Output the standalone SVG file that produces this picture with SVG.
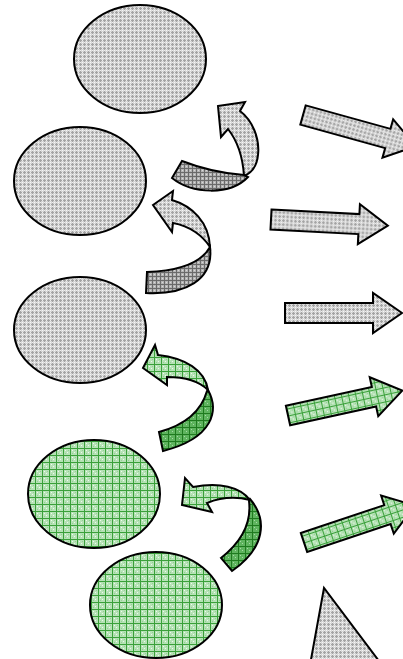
<svg xmlns="http://www.w3.org/2000/svg" width="403" height="659" viewBox="0 0 403 659">
<defs>
<pattern id="pG" width="4" height="4" patternUnits="userSpaceOnUse">
<rect width="4" height="4" fill="#d6d6d6"/><rect width="4" height="1" fill="#a4a4a4"/><rect width="1" height="4" fill="#a4a4a4"/><rect x="2" y="2" width="1" height="1" fill="#f6f6f6"/><rect x="2" y="0" width="1" height="1" fill="#eeeeee"/><rect x="0" y="2" width="1" height="1" fill="#eeeeee"/>
</pattern>
<pattern id="pGD" width="4" height="4" patternUnits="userSpaceOnUse">
<rect width="4" height="4" fill="#b4b4b4"/><rect width="4" height="1" fill="#6a6a6a"/><rect width="1" height="4" fill="#6a6a6a"/><rect x="2" y="2" width="1" height="1" fill="#dadada"/>
</pattern>
<pattern id="pN" width="7" height="7" patternUnits="userSpaceOnUse">
<rect width="7" height="7" fill="#b6e2b6"/><rect x="2" y="2" width="1" height="1" fill="#eef8ee"/><rect x="4" y="4" width="1" height="1" fill="#eef8ee"/><rect x="2" y="5" width="1" height="1" fill="#92cf92"/><rect x="5" y="2" width="1" height="1" fill="#92cf92"/><rect width="7" height="1" fill="#3aa03a"/><rect width="1" height="7" fill="#3aa03a"/>
</pattern>
<pattern id="pND" width="7" height="7" patternUnits="userSpaceOnUse">
<rect width="7" height="7" fill="#5eb45e"/><rect x="2" y="2" width="1" height="1" fill="#a8d8a8"/><rect x="4" y="4" width="1" height="1" fill="#a8d8a8"/><rect width="7" height="1" fill="#1f7a1f"/><rect width="1" height="7" fill="#1f7a1f"/>
</pattern>
</defs>
<style>
.s{stroke:#000;stroke-width:2;stroke-linejoin:miter}
.g{fill:url(#pG)}
.gd{fill:url(#pGD)}
.n{fill:url(#pN)}
.nd{fill:url(#pND)}
</style>
<g id="e1"><ellipse class="s g" cx="140" cy="59" rx="66" ry="54"/></g>
<g id="e2"><ellipse class="s g" cx="80" cy="181" rx="66" ry="54"/></g>
<g id="e3"><ellipse class="s g" cx="80" cy="330" rx="66" ry="53"/></g>
<g id="e4"><ellipse class="s n" cx="94" cy="494" rx="66" ry="54"/></g>
<g id="e5"><ellipse class="s n" cx="156" cy="605" rx="66" ry="53"/></g>
<g id="tri"><polygon class="s g" points="324,588 310,665 382,665"/></g>
<g id="connectors">
<g id="c1">
<path class="s g" d="M218,106 L245,102 L240,111 C252,120 260,138 258,155 C257,166 251,173 244,176 C243,160 239,143 228,129 L221,137 Z"/>
<path class="s gd" d="M244,175 C230,174 205,170 182,161 L172,178 C192,194 230,196 248,177 Z"/>
</g>
<g id="c2">
<path class="s g" d="M153,205 L173,191 L172,200 C192,206 209,222 210,247 C203,236 190,226 173,223 L172,232 Z"/>
<path class="s gd" d="M210,247 C200,265 175,271 147,272 L146,293 C185,295 214,280 210,247 Z"/>
</g>
<g id="c3">
<path class="s n" d="M155,345 L143,368 L167,385 L167,377 C185,377 200,382 208,390 C205,370 185,358 158,355 Z"/>
<path class="s nd" d="M208,390 C219,410 214,438 163,451 L159,432 C185,425 201,412 207,391 Z"/>
</g>
<g id="c4">
<path class="s n" d="M185,478 L182,505 L212,512 L207,503 C222,497 238,497 250,500 C240,487 220,482 193,487 Z"/>
<path class="s nd" d="M250,499 C268,520 265,548 232,571 L221,558 C240,543 252,525 249,501 Z"/>
</g>
<g id="a1" transform="translate(303,115) rotate(15.5)"><path class="s g" d="M0,-10 L88,-10 L88,-20 L117,0 L88,20 L88,10 L0,10 Z"/></g>
<g id="a2" transform="translate(271,219.5) rotate(3)"><path class="s g" d="M0,-10 L88,-10 L88,-20 L117,0 L88,20 L88,10 L0,10 Z"/></g>
<g id="a3" transform="translate(285,313)"><path class="s g" d="M0,-10 L88,-10 L88,-20 L117,0 L88,20 L88,10 L0,10 Z"/></g>
<g id="a4" transform="translate(288,415.5) rotate(-12.3)"><path class="s n" d="M0,-10 L88,-10 L88,-20 L117,0 L88,20 L88,10 L0,10 Z"/></g>
<g id="a5" transform="translate(304,542.5) rotate(-18.5)"><path class="s n" d="M0,-10 L88,-10 L88,-20 L117,0 L88,20 L88,10 L0,10 Z"/></g>
</g>
</svg>
